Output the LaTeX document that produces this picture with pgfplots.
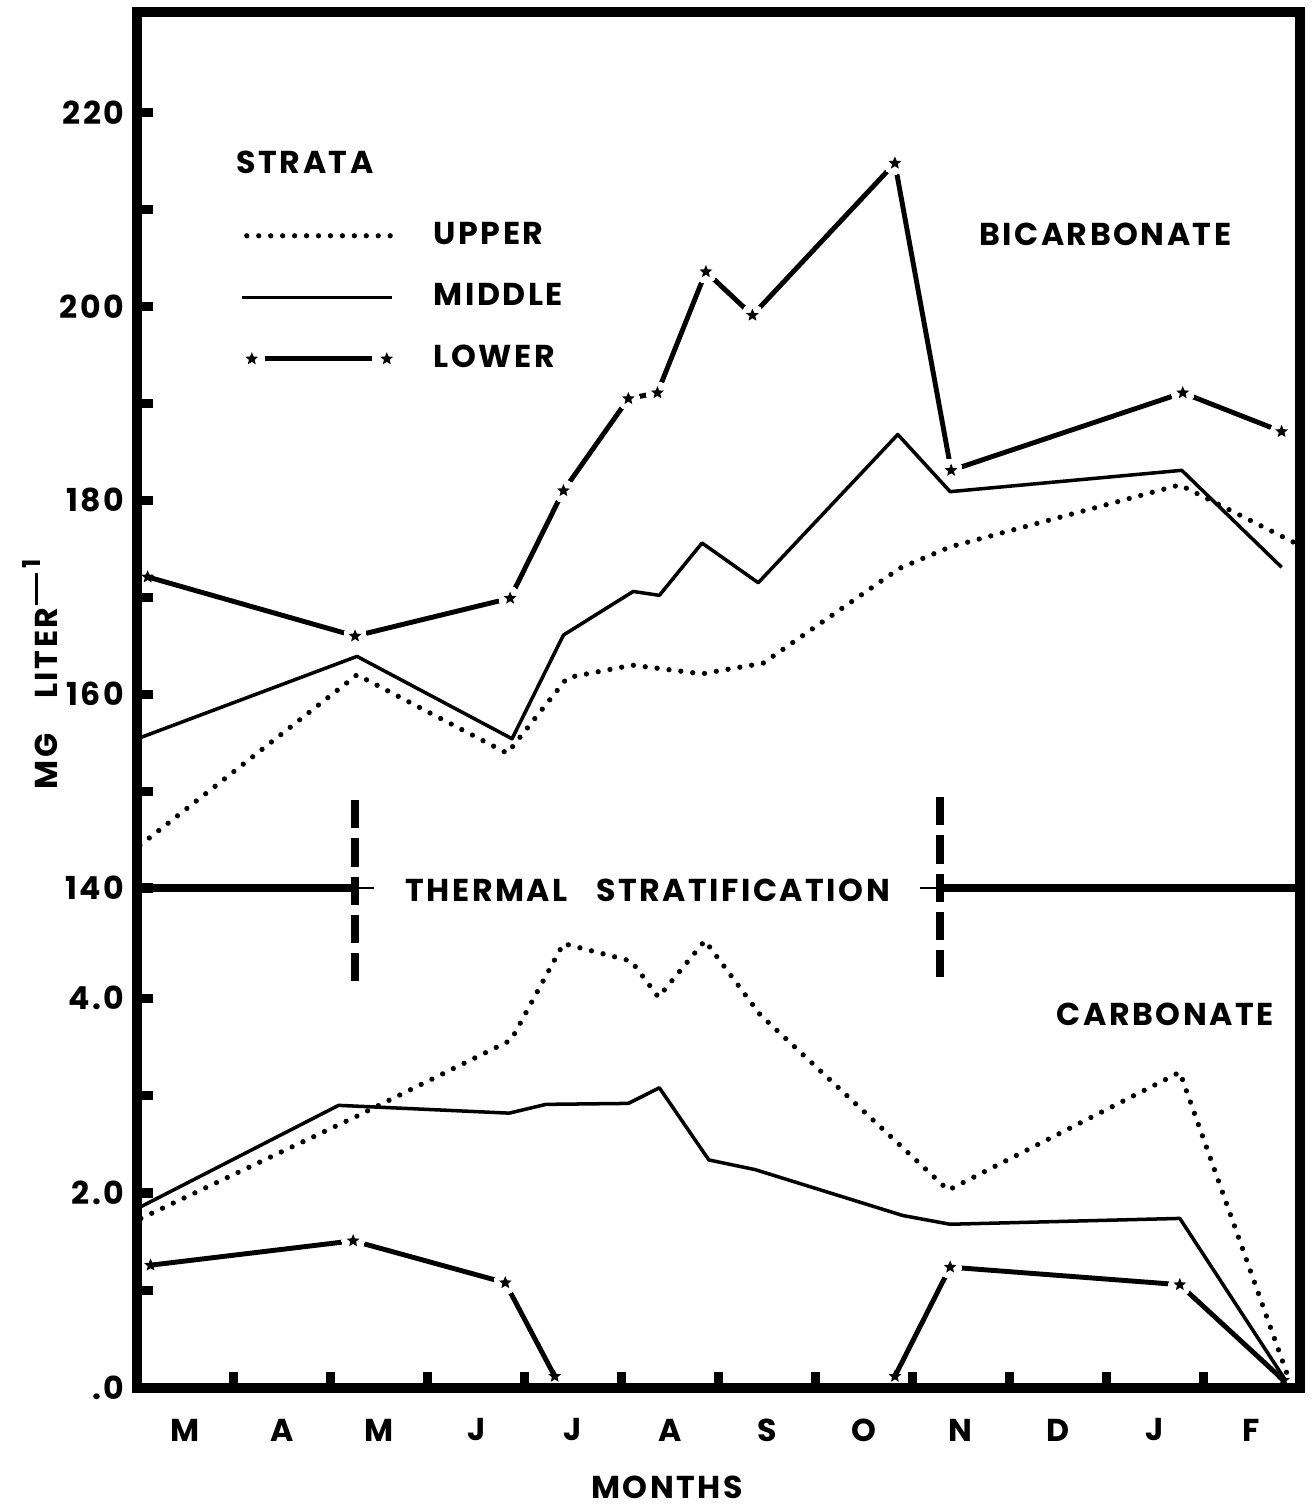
\documentclass[border=0pt]{standalone}
\usepackage{fontspec}
\setmainfont{Poppins}[LetterSpace=8]
\usepackage{pgfplots}
\pgfplotsset{compat=1.18}
\newcommand\lf{\fontsize{9pt}{10pt}\selectfont\bfseries}
\pgfdeclareplotmark{fstar}{%
  \pgfpathmoveto{\pgfpointpolar{90}{\pgfplotmarksize}}%
  \pgfpathlineto{\pgfpointpolar{126}{0.45\pgfplotmarksize}}%
  \pgfpathlineto{\pgfpointpolar{162}{\pgfplotmarksize}}%
  \pgfpathlineto{\pgfpointpolar{198}{0.45\pgfplotmarksize}}%
  \pgfpathlineto{\pgfpointpolar{234}{\pgfplotmarksize}}%
  \pgfpathlineto{\pgfpointpolar{270}{0.45\pgfplotmarksize}}%
  \pgfpathlineto{\pgfpointpolar{306}{\pgfplotmarksize}}%
  \pgfpathlineto{\pgfpointpolar{342}{0.45\pgfplotmarksize}}%
  \pgfpathlineto{\pgfpointpolar{18}{\pgfplotmarksize}}%
  \pgfpathlineto{\pgfpointpolar{54}{0.45\pgfplotmarksize}}%
  \pgfpathclose\pgfusepathqfill}
\pgfplotsset{
  upperS/.style={black, line width=1.5pt, dash pattern=on 0pt off 3.4pt, line cap=round, mark=none},
  middleS/.style={black, line width=1.0pt, mark=none, line join=round},
  lowerS/.style={black, line width=1.4pt, mark=none},
  haloS/.style={only marks, white, mark=*, mark size=3.2pt, mark options={draw=white, fill=white, line width=0pt}},
  starS/.style={only marks, mark=fstar, mark size=1.9pt, black},
  frame/.style={
    scale only axis, width=11.63cm, xmin=0, xmax=12,
    tick align=inside, axis on top,
    axis line style={line width=2.85pt, line cap=rect},
    tick style={line width=2.6pt, black},
    major tick length=0.16cm, minor tick length=0.16cm,
    ytick pos=left,
    yticklabel style={font=\lf, anchor=east, inner sep=0pt, xshift=-0.12cm},
    clip=false,
  },
}
\begin{document}
\begin{tikzpicture}[x=1cm,y=1cm]
\path[use as bounding box] (0,0) rectangle (13.12,15.07);
% ---------------- lower panel: carbonate
\begin{axis}[frame, at={(1.37cm,1.19cm)}, anchor=south west, height=5.00cm,
  ymin=0, ymax=5.13,
  axis x line*=bottom, axis y line*=box,
  ytick={0,2,4}, yticklabels={.0,2.0,4.0}, minor ytick={1,3},
  xtick={1,...,11}, xticklabels={}, xtick pos=bottom,
  extra x ticks={0.5,1.5,...,11.5},
  extra x tick labels={M,A,M,J,J,A,S,O,N,D,J,F},
  extra x tick style={tick style={draw=none}, xticklabel style={font=\lf, anchor=center, yshift=-0.42cm}},
]
% lower stratum
\addplot[lowerS] coordinates {(0.14,1.26) (2.23,1.51) (3.80,1.08) (4.31,0.12)};
\addplot[lowerS] coordinates {(7.82,0.12) (8.39,1.24) (10.76,1.06) (11.83,0.08)};
\addplot[haloS] coordinates {(2.23,1.51) (3.80,1.08) (8.39,1.24) (10.76,1.06)};
\addplot[starS] coordinates {(0.14,1.26) (2.23,1.51) (3.80,1.08) (4.31,0.12) (7.82,0.12) (8.39,1.24) (10.76,1.06) (11.83,0.08)};
% middle stratum
\addplot[middleS] coordinates {(0.04,1.86) (2.08,2.90) (3.84,2.82) (4.22,2.91) (5.07,2.92) (5.39,3.08) (5.90,2.34) (6.38,2.24) (7.90,1.77) (8.39,1.68) (10.76,1.74) (11.85,0.08)};
% upper stratum
\addplot[upperS] coordinates {(0.04,1.74) (2.25,2.78) (3.86,3.57) (4.40,4.56) (5.10,4.38) (5.38,4.01) (5.86,4.59) (6.43,3.83) (8.37,2.03) (10.76,3.24) (11.90,0.05)};
% thermal stratification line (top edge of this panel) and its markers
\draw[line width=2.3pt] (axis cs:0,5.13) -- (axis cs:2.25,5.13);
\draw[line width=0.5pt] (axis cs:2.25,5.13) -- (axis cs:2.45,5.13);
\draw[line width=0.5pt] (axis cs:8.08,5.13) -- (axis cs:8.29,5.13);
\draw[line width=2.3pt] (axis cs:8.29,5.13) -- (axis cs:12,5.13);
\draw[line width=2.3pt, dash pattern=on 8pt off 2.85pt] (axis cs:2.25,6.03) -- (axis cs:2.25,4.15);
\draw[line width=2.3pt, dash pattern=on 8pt off 2.85pt] (axis cs:8.29,6.06) -- (axis cs:8.29,4.22);
\node[font=\lf] at (axis cs:5.27,5.11) {THERMAL\hspace{0.9em}STRATIFICATION};
\node[font=\lf] at (axis cs:10.61,3.83) {CARBONATE};
\end{axis}
% ---------------- upper panel: bicarbonate
\begin{axis}[frame, at={(1.37cm,6.19cm)}, anchor=south west, height=8.76cm,
  ymin=140, ymax=230.4,
  axis x line*=top, axis y line*=box,
  xtick=\empty,
  ytick={140,160,...,220}, yticklabels={140,160,180,200,220}, minor ytick={150,170,...,210},
  legend style={draw=none, fill=none, at={(axis description cs:0.088,0.761)}, anchor=north west,
    font=\lf, row sep=0.34cm, inner sep=0pt, nodes={inner sep=0pt}},
  legend cell align=left,
]
\addlegendimage{legend image code/.code={\draw[line width=1.5pt, dash pattern=on 0pt off 3.4pt, line cap=round] (0.05cm,0) -- (1.55cm,0);\path[draw=none] (0,0) -- (1.92cm,0);}}
\addlegendentry{UPPER}
\addlegendimage{legend image code/.code={\draw[line width=1.0pt] (0cm,0) -- (1.5cm,0);\path[draw=none] (0,0) -- (1.92cm,0);}}
\addlegendentry{MIDDLE}
\addlegendimage{legend image code/.code={\draw[line width=1.4pt] (0.23cm,0) -- (1.30cm,0);\pgfsetplotmarksize{1.9pt}\begin{scope}[shift={(0.1cm,0)}]\pgfuseplotmark{fstar}\end{scope}\begin{scope}[shift={(1.45cm,0)}]\pgfuseplotmark{fstar}\end{scope}\path[draw=none] (0,0) -- (1.92cm,0);}}
\addlegendentry{LOWER}
% lower stratum
\addplot[lowerS, forget plot] coordinates {(0.11,172.1) (2.25,166.0) (3.85,169.9) (4.40,181.0) (5.07,190.5) (5.37,191.1) (5.87,203.6) (6.35,199.1) (7.82,214.8) (8.40,183.1) (10.79,191.1) (11.81,187.1)};
\addplot[haloS, forget plot] coordinates {(2.25,166.0) (3.85,169.9) (4.40,181.0) (5.07,190.5) (5.37,191.1) (5.87,203.6) (6.35,199.1) (7.82,214.8) (8.40,183.1) (10.79,191.1) (11.81,187.1)};
\addplot[starS, forget plot] coordinates {(0.11,172.1) (2.25,166.0) (3.85,169.9) (4.40,181.0) (5.07,190.5) (5.37,191.1) (5.87,203.6) (6.35,199.1) (7.82,214.8) (8.40,183.1) (10.79,191.1) (11.81,187.1)};
% middle stratum
\addplot[middleS, forget plot] coordinates {(0.03,155.5) (2.27,163.9) (3.87,155.4) (4.40,166.1) (5.12,170.6) (5.39,170.2) (5.83,175.6) (6.41,171.5) (7.85,186.8) (8.39,180.9) (10.78,183.1) (11.81,173.1)};
% upper stratum
\addplot[upperS, forget plot] coordinates {(0.03,144.4) (2.27,162.0) (3.82,153.9) (4.44,161.7) (5.11,163.0) (5.83,162.1) (6.46,163.2) (7.87,173.0) (8.39,175.2) (10.76,181.6) (11.97,175.5)};
\node[font=\lf, anchor=west] at (axis cs:0.9,214.9) {STRATA};
\node[font=\lf] at (axis cs:9.99,207.5) {BICARBONATE};
\end{axis}
\node[font=\lf, rotate=90] at (0.40,8.33) {MG\hspace{1.1em}LITER\hspace{0.08em}\rule[5.6pt]{0.32cm}{0.8pt}\hspace{0.05cm}\raisebox{5.0pt}{\fontsize{7pt}{8pt}\selectfont 1}};
\node[font=\lf] at (6.67,0.20) {MONTHS};
\end{tikzpicture}
\end{document}
